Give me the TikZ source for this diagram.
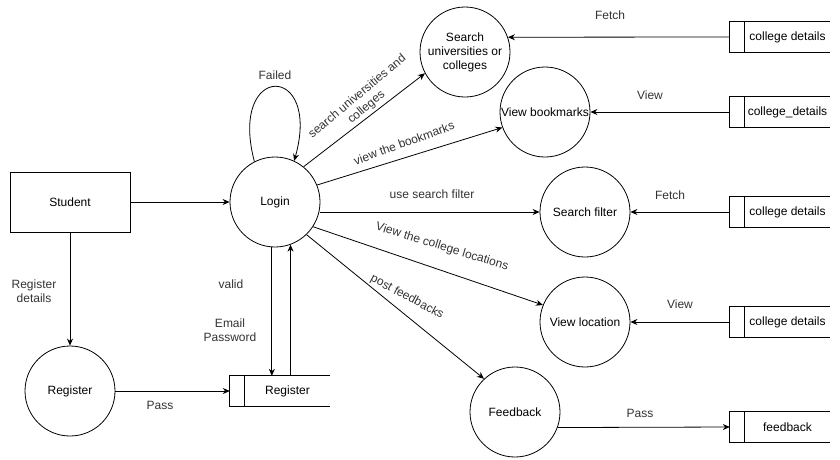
\documentclass[tikz,border=0pt]{standalone}
\usepackage{fontspec}
\setmainfont{Liberation Sans}
\usetikzlibrary{arrows.meta}
\begin{document}
\begin{tikzpicture}[x=1pt,y=-1pt,
  font=\fontsize{12}{14}\selectfont,
  proc/.style={draw,circle,minimum size=90pt,inner sep=0pt,align=center,line width=0.8pt},
  entity/.style={draw,rectangle,minimum width=120pt,minimum height=60pt,line width=0.8pt},
  store/.style={rectangle,minimum width=100pt,minimum height=30pt,inner sep=0pt},
  arr/.style={-{Stealth[length=7pt,width=6pt]},line width=0.8pt},
  lbl/.style={text=black!80,align=center,inner sep=0pt}]
\useasboundingbox (0,0) rectangle (840,459);
\fill[white] (0,0) rectangle (840,459);
% entities and processes
\node[entity] (student) at (70,202) {Student};
\node[proc] (regp) at (70,391) {Register};
\node[proc] (login) at (275,202) {Login};
\node[proc] (search) at (465,52) {Search\\universities or\\colleges};
\node[proc] (bookm) at (545,112) {View bookmarks};
\node[proc] (filter) at (585,212) {Search filter};
\node[proc] (loc) at (585,322) {View location};
\node[proc] (feed) at (515,412) {Feedback};
% data stores
\newcommand{\dstore}[4]{%
  \node[store] (#1) at (#2,#3) {\hspace*{15pt}#4};
  \draw[line width=0.8pt] (#1.north east) -- (#1.north west) -- (#1.south west) -- (#1.south east);
  \draw[line width=0.8pt] ([xshift=15pt]#1.north west) -- ([xshift=15pt]#1.south west);}
\dstore{s1}{780}{37}{college details}
\dstore{s2}{780}{112}{college\_details}
\dstore{s3}{780}{212}{college details}
\dstore{s4}{780}{322}{college details}
\dstore{sreg}{280}{391}{Register}
\dstore{sfeed}{780}{427}{feedback}
% connectors
\draw[arr] (student.east) -- (login.west);
\draw[arr] (student.south) -- (regp.north);
\node[lbl] at (34,291) {Register\\details};
\draw[arr] (regp.east) -- (sreg.west);
\node[lbl] at (160,405) {Pass};
\draw[arr] (login.-94) -- (login.-94 |- sreg.north);
\draw[arr] (sreg.north -| login.-70) -- (login.-70);
\node[lbl] at (231,284) {valid};
\node[lbl] at (230,330) {Email\\Password};
\draw[arr] (login.117) .. controls (228,62) and (322,62) .. (login.65);
\node[lbl] at (275,75) {Failed};
\draw[arr] (login.51) -- (search.208);
\node[lbl,rotate=40] at (362,102) {search universities and\\colleges};
\draw[arr] (login.22) -- (bookm.200);
\node[lbl,rotate=20] at (404,143) {view the bookmarks};
\draw[arr] (login.east |- filter.west) -- (filter.west);
\node[lbl] at (432,194) {use search filter};
\draw[arr] (login.-33) -- (loc.158);
\node[lbl,rotate=-17] at (442,247) {View the college locations};
\draw[arr] (login.-46) -- (feed.133);
\node[lbl,rotate=-28] at (407,297) {post feedbacks};
\draw[arr] (feed.-20) -- (sfeed.west);
\node[lbl] at (640,413) {Pass};
\draw[arr] (s1.west) -- (search.19);
\node[lbl] at (610,15) {Fetch};
\draw[arr] (s2.west) -- (bookm.east);
\node[lbl] at (650,95) {View};
\draw[arr] (s3.west) -- (filter.east);
\node[lbl] at (670,195) {Fetch};
\draw[arr] (s4.west) -- (loc.east);
\node[lbl] at (680,304) {View};
\end{tikzpicture}
\end{document}
